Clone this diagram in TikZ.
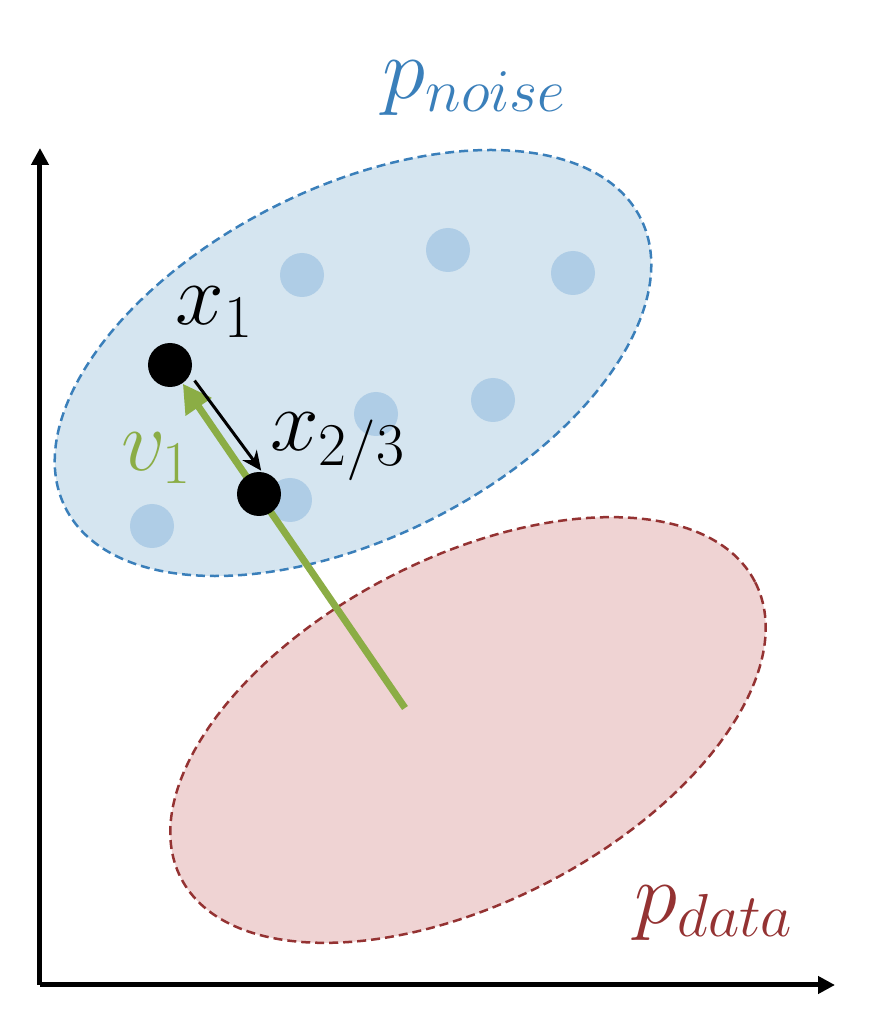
\documentclass[tikz,border=0pt]{standalone}
\usetikzlibrary{arrows.meta}
\definecolor{noiseblue}{RGB}{58,127,186}
\definecolor{noisefill}{RGB}{213,229,240}
\definecolor{dotblue}{RGB}{175,205,230}
\definecolor{datared}{RGB}{148,50,50}
\definecolor{datafill}{RGB}{239,211,211}
\definecolor{vgreen}{RGB}{139,173,69}
\tikzset{
	sample/.style={circle, fill=black, inner sep=0pt, minimum size=0.44cm},
	noisept/.style={circle, fill=dotblue, inner sep=0pt, minimum size=0.44cm},
	region/.style={line width=0.25mm, dash pattern=on 0.09cm off 0.05cm},
	lab/.style={font=\fontsize{26}{30}\selectfont, inner sep=0pt},
}
\begin{document}
\begin{tikzpicture}
					\useasboundingbox (0,0) rectangle (8.82,10.18);
					
					\coordinate (origin) at (0.40,0.33);
					\coordinate (yend) at (0.40,8.70);
					\coordinate (xend) at (8.35,0.33);
					\draw[line width = 0.5mm, -{Triangle[length=4.8pt,width=4.8pt]}] (origin) -- (yend);
					\draw[line width = 0.5mm, -{Triangle[length=4.8pt,width=4.8pt]}] (origin) -- (xend);
					
					\draw[region, draw=noiseblue, fill=noisefill, rotate around={26.7:(3.53,6.55)}] (3.53,6.55) ellipse [x radius=3.22, y radius=1.75];
					\draw[region, draw=datared, fill=datafill, rotate around={27.3:(4.68,2.88)}] (4.68,2.88) ellipse [x radius=3.23, y radius=1.72];
					
					\foreach \px/\py [count=\i] in {3.02/7.43, 4.48/7.68, 5.73/7.45, 3.76/6.04, 4.93/6.18, 1.52/4.92, 2.90/5.18}
						\node[noisept] (noise\i) at (\px,\py) {};
					
					\coordinate (vstart) at (4.05,3.10);
					\node[sample] (xone) at (1.70,6.53) {};
					\draw[vgreen, line width = 0.7mm, -{Triangle[length=8pt,width=8.5pt]}] (vstart) -- (xone);
					\node[sample] (xtwo) at (2.59,5.24) {};
					\draw[line width = 0.3mm, -{Stealth[length=5.5pt,width=5pt]}, shorten <=0.07cm, shorten >=0.01cm] (xone.-26) -- (xtwo.83);
					
					\node[lab] (lxone) at (2.15,7.06) {$x_1$};
					\node[lab] (lxtwo) at (3.38,5.71) {$x_{2/3}$};
					\node[lab, text=vgreen] (lvone) at (1.57,5.60) {$v_1$};
					\node[lab, text=noiseblue] (lnoise) at (4.75,9.30) {$p_{noise}$};
					\node[lab, text=datared] (ldata) at (7.14,1.05) {$p_{data}$};
					
				\end{tikzpicture}
\end{document}
